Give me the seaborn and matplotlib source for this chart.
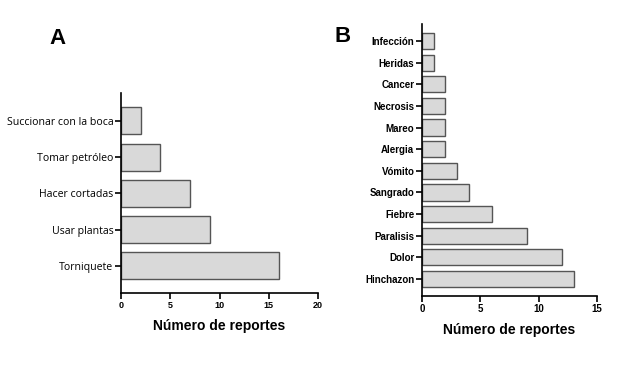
import matplotlib
matplotlib.use("Agg")
import matplotlib.pyplot as plt
import pandas as pd
import seaborn as sns

# panel A: first-aid practices
practices = ["Succionar con la boca", "Tomar petróleo", "Hacer cortadas", "Usar plantas", "Torniquete"]
practice_counts = [2, 4, 7, 9, 16]

# panel B: reported symptoms
symptoms = ["Infección", "Heridas", "Cancer", "Necrosis", "Mareo", "Alergia",
            "Vómito", "Sangrado", "Fiebre", "Paralisis", "Dolor", "Hinchazon"]
symptom_counts = [1, 1, 2, 2, 2, 2, 3, 4, 6, 9, 12, 13]

sns.set_theme(style="ticks")
plt.rcParams["font.family"] = ["Liberation Sans", "DejaVu Sans"]
plt.rcParams["text.color"] = "black"
plt.rcParams["xtick.color"] = "black"
plt.rcParams["ytick.color"] = "black"
plt.rcParams["axes.labelcolor"] = "black"

fig = plt.figure(figsize=(6.42, 3.72), dpi=100)
ax_a = fig.add_axes([0.1885, 0.2124, 0.307, 0.5376])
ax_b = fig.add_axes([0.6573, 0.2043, 0.2726, 0.7312])

bar_kw = dict(color="#d9d9d9", edgecolor="#555555", linewidth=1.0, width=0.75, saturation=1)

df_a = pd.DataFrame({"practica": practices, "n": practice_counts})
sns.barplot(data=df_a, x="n", y="practica", orient="h", ax=ax_a, **bar_kw)
ax_a.set_xlim(0, 20)
ax_a.set_xticks([0, 5, 10, 15, 20])
ax_a.set_ylim(len(practices) - 1 + 0.75, -0.77)
ax_a.set_ylabel("")
ax_a.set_xlabel("Número de reportes", fontsize=10, fontweight="bold", labelpad=6)
ax_a.tick_params(axis="y", labelsize=7.6, length=4, width=1.2, pad=1.5)
for lbl in ax_a.get_yticklabels():
    lbl.set_family(["Open Sans", "DejaVu Sans"])
ax_a.tick_params(axis="x", labelsize=6.5, length=4, width=1.2, pad=2)
for lbl in ax_a.get_xticklabels():
    lbl.set_fontweight("bold")

df_b = pd.DataFrame({"sintoma": symptoms, "n": symptom_counts})
sns.barplot(data=df_b, x="n", y="sintoma", orient="h", ax=ax_b, **bar_kw)
ax_b.set_xlim(0, 15)
ax_b.set_xticks([0, 5, 10, 15])
ax_b.set_ylim(len(symptoms) - 1 + 0.79, -0.79)
ax_b.set_ylabel("")
ax_b.set_xlabel("Número de reportes", fontsize=10, fontweight="bold", labelpad=6)
ax_b.tick_params(axis="y", labelsize=7, length=4, width=1.2, pad=1.5)
ax_b.tick_params(axis="x", labelsize=7, length=4, width=1.2, pad=2)
for lbl in ax_b.get_yticklabels() + ax_b.get_xticklabels():
    lbl.set_fontweight("bold")

for ax in (ax_a, ax_b):
    sns.despine(ax=ax)
    for side in ("left", "bottom"):
        ax.spines[side].set_linewidth(1.2)
        ax.spines[side].set_color("black")

fig.text(58 / 642, 1 - 38 / 372, "A", fontsize=16, fontweight="bold", ha="center", va="center")
fig.text(343 / 642, 1 - 36 / 372, "B", fontsize=16, fontweight="bold", ha="center", va="center")

fig.savefig("out.png", dpi=100)
